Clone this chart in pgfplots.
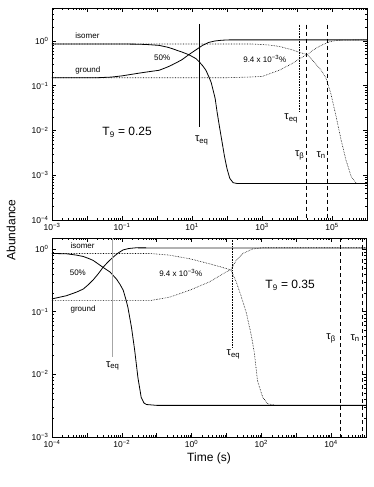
\documentclass[border=0pt]{standalone}
\usepackage{pgfplots}
\pgfplotsset{compat=1.18}
\usepackage{fontspec}
\setmainfont{Liberation Sans}
\newcommand{\ep}[1]{10\textsuperscript{#1}}

\tikzset{
  cur/.style={black, line width=0.8pt},
  dot/.style={black, densely dotted, line width=0.6pt},
  dsh/.style={black, dash pattern=on 4pt off 3pt, line width=0.6pt},
  lab/.style={font=\fontsize{8}{9}\selectfont},
  tau/.style={font=\fontsize{11}{12}\selectfont},
}

\begin{document}
\begin{tikzpicture}[x=1pt,y=1pt]
\path[use as bounding box] (0,0) rectangle (374,487);

% ---- top panel, T9 = 0.25
\begin{axis}[at={(52pt,267pt)}, anchor=south west,
  scale only axis, width=315pt, height=212pt,
  xmode=log, ymode=log,
  axis line style={line width=0.6pt},
  tick style={black, line width=0.4pt},
  major tick length=4pt, minor tick length=2pt,
  tick label style={font=\fontsize{8.5}{9}\selectfont},
  xmin=1e-3, xmax=1e6, ymin=1e-4, ymax=5.4,
  xtick={1e-3,1e-2,1e-1,1,1e1,1e2,1e3,1e4,1e5,1e6},
  xticklabels={\ep{−3},,\ep{−1},,\ep{1},,\ep{3},,\ep{5},},
  ytick={1e-4,1e-3,1e-2,1e-1,1},
  yticklabels={\ep{−4},\ep{−3},\ep{−2},\ep{−1},\ep{0}},
  minor xtick={2e-3,3e-3,4e-3,5e-3,6e-3,7e-3,8e-3,9e-3,
    2e-2,3e-2,4e-2,5e-2,6e-2,7e-2,8e-2,9e-2,
    0.2,0.3,0.4,0.5,0.6,0.7,0.8,0.9, 2,3,4,5,6,7,8,9,
    20,30,40,50,60,70,80,90, 200,300,400,500,600,700,800,900,
    2e3,3e3,4e3,5e3,6e3,7e3,8e3,9e3, 2e4,3e4,4e4,5e4,6e4,7e4,8e4,9e4,
    2e5,3e5,4e5,5e5,6e5,7e5,8e5,9e5},
  minor ytick={2e-4,3e-4,4e-4,5e-4,6e-4,7e-4,8e-4,9e-4,
    2e-3,3e-3,4e-3,5e-3,6e-3,7e-3,8e-3,9e-3,
    2e-2,3e-2,4e-2,5e-2,6e-2,7e-2,8e-2,9e-2,
    0.2,0.3,0.4,0.5,0.6,0.7,0.8,0.9, 2,3,4,5},
]
% 50% case
\addplot[cur, mark=none] coordinates {
  (1e-3,0.85) (0.03,0.85) (0.1,0.848) (0.31,0.84) (0.6,0.82) (1.15,0.79)
  (2.0,0.72) (2.7,0.67) (4,0.60) (5.2,0.56) (8.1,0.49) (13,0.40) (16,0.34)
  (20,0.28) (25,0.22) (30,0.16) (35,0.12) (40,0.08) (46,0.051) (52,0.026)
  (60,0.013) (72,0.0056) (85,0.0026) (100,0.0014) (120,0.00085) (150,0.00068)
  (200,0.00065) (1e6,0.00065)};
\addplot[cur, mark=none] coordinates {
  (1e-3,0.15) (0.02,0.15) (0.05,0.155) (0.1,0.165) (0.31,0.19) (0.6,0.205)
  (1.15,0.22) (2.0,0.26) (2.7,0.29) (4,0.34) (5.2,0.38) (8.1,0.49) (13,0.63)
  (20,0.79) (30,0.92) (45,0.99) (70,1.03) (120,1.05) (1e6,1.05)};
% 9.4e-3 % case
\addplot[dot, mark=none] coordinates {
  (1e-3,0.85) (500,0.85) (1.5e3,0.81) (3.1e3,0.75) (7.2e3,0.63) (1.4e4,0.53)
  (1.95e4,0.49) (2.7e4,0.38) (4.9e4,0.22) (6.8e4,0.145) (9.3e4,0.066)
  (1.3e5,0.021) (1.8e5,0.0064) (2.5e5,0.0022) (3.5e5,0.00095) (4.9e5,0.00066)
  (1e6,0.00065)};
\addplot[dot, mark=none] coordinates {
  (1e-3,0.15) (100,0.15) (400,0.155) (1e3,0.16) (3.1e3,0.22) (7.2e3,0.31)
  (1.4e4,0.43) (1.95e4,0.49) (2.7e4,0.6) (4.3e4,0.75) (6.8e4,0.89)
  (9.3e4,0.97) (1.6e5,1.03) (1e6,1.05)};
% time scales
\addplot[black, line width=1pt, mark=none] coordinates {(16,2.4) (16,0.012)};
\addplot[dot, mark=none] coordinates {(1.2e4,2.3) (1.2e4,0.025)};
\addplot[dsh, mark=none] coordinates {(1.8e4,2.3) (1.8e4,1e-4)};
\addplot[dsh, mark=none] coordinates {(7.4e4,2.3) (7.4e4,1e-4)};

\node[lab, anchor=west] at (axis cs:3.7e-3,1.3) {isomer};
\node[lab, anchor=west] at (axis cs:3.7e-3,0.22) {ground};
\node[lab] at (axis cs:1.4,0.42) {50\%};
\node[lab] at (axis cs:1.2e3,0.40) {9.4 x \ep{−3}\%};
\node[font=\fontsize{12}{13}\selectfont] at (axis cs:0.14,0.009) {T\textsubscript{9} = 0.25};
\node[tau] at (axis cs:19,0.006) {τ\textsubscript{eq}};
\node[tau] at (axis cs:6.8e3,0.0186) {τ\textsubscript{eq}};
\node[tau] at (axis cs:1.2e4,0.0028) {τ\textsubscript{β}};
\node[tau] at (axis cs:4.9e4,0.0028) {τ\textsubscript{n}};
\end{axis}

% ---- bottom panel, T9 = 0.35
\begin{axis}[at={(52pt,50pt)}, anchor=south west,
  scale only axis, width=314pt, height=199pt,
  xmode=log, ymode=log,
  axis line style={line width=0.6pt},
  tick style={black, line width=0.4pt},
  major tick length=4pt, minor tick length=2pt,
  tick label style={font=\fontsize{8.5}{9}\selectfont},
  xmin=1e-4, xmax=1e5, ymin=1e-3, ymax=1.5,
  xtick={1e-4,1e-3,1e-2,1e-1,1,1e1,1e2,1e3,1e4,1e5},
  xticklabels={\ep{−4},,\ep{−2},,\ep{0},,\ep{2},,\ep{4},},
  ytick={1e-3,1e-2,1e-1,1},
  yticklabels={\ep{−3},\ep{−2},\ep{−1},\ep{0}},
  minor xtick={2e-4,3e-4,4e-4,5e-4,6e-4,7e-4,8e-4,9e-4,
    2e-3,3e-3,4e-3,5e-3,6e-3,7e-3,8e-3,9e-3,
    2e-2,3e-2,4e-2,5e-2,6e-2,7e-2,8e-2,9e-2,
    0.2,0.3,0.4,0.5,0.6,0.7,0.8,0.9, 2,3,4,5,6,7,8,9,
    20,30,40,50,60,70,80,90, 200,300,400,500,600,700,800,900,
    2e3,3e3,4e3,5e3,6e3,7e3,8e3,9e3, 2e4,3e4,4e4,5e4,6e4,7e4,8e4,9e4},
  minor ytick={2e-3,3e-3,4e-3,5e-3,6e-3,7e-3,8e-3,9e-3,
    2e-2,3e-2,4e-2,5e-2,6e-2,7e-2,8e-2,9e-2,
    0.2,0.3,0.4,0.5,0.6,0.7,0.8,0.9},
  xlabel={Time (s)},
  xlabel style={font=\fontsize{12}{13}\selectfont, yshift=2pt},
]
\addplot[gray!60, line width=1.6pt, mark=none] coordinates {(0.03,1.05) (1e5,1.05)};
\addplot[cur, mark=none] coordinates {
  (1e-4,0.85) (2.6e-4,0.84) (5e-4,0.80) (7.9e-4,0.76) (1.1e-3,0.71)
  (1.5e-3,0.66) (2.1e-3,0.58) (2.9e-3,0.51) (4.6e-3,0.43) (7.1e-3,0.33)
  (0.009,0.27) (0.011,0.22) (0.013,0.16) (0.015,0.117) (0.019,0.056)
  (0.0235,0.024) (0.029,0.0089) (0.036,0.0043) (0.043,0.0035) (0.051,0.0033)
  (0.1,0.0032) (1e5,0.0032)};
\addplot[cur, mark=none] coordinates {
  (1e-4,0.16) (2.6e-4,0.18) (5e-4,0.205) (7.9e-4,0.23) (1.1e-3,0.27)
  (1.5e-3,0.32) (2.1e-3,0.40) (2.9e-3,0.51) (4e-3,0.62) (5.6e-3,0.74)
  (8e-3,0.87) (0.011,0.97) (0.016,1.02) (0.027,1.05) (0.05,1.05)};
\addplot[dot, mark=none] coordinates {
  (1e-4,0.85) (0.063,0.85) (0.23,0.80) (0.88,0.70) (3.3,0.58) (9.8,0.49)
  (13.5,0.46) (19,0.30) (26,0.18) (37,0.097) (52,0.041) (63,0.022)
  (78,0.0078) (110,0.0043) (150,0.0034) (250,0.0032) (1e5,0.0032)};
\addplot[dot, mark=none] coordinates {
  (1e-4,0.15) (0.063,0.15) (0.23,0.17) (0.88,0.22) (3.3,0.30) (9.8,0.43)
  (13.5,0.47) (19,0.66) (29.6,0.85) (56,1.0) (110,1.05) (1e5,1.05)};
\addplot[gray!70, line width=1pt, mark=none] coordinates {(5.5e-3,1.5) (5.5e-3,0.019)};
\addplot[dot, mark=none] coordinates {(15,1.5) (15,0.026)};
\addplot[dsh, mark=none] coordinates {(1.8e4,1.5) (1.8e4,1e-3)};
\addplot[dsh, mark=none] coordinates {(7.6e4,1.5) (7.6e4,1e-3)};

\node[lab, anchor=west] at (axis cs:2.7e-4,1.14) {isomer};
\node[lab] at (axis cs:5.5e-4,0.42) {50\%};
\node[lab, anchor=west] at (axis cs:2.7e-4,0.11) {ground};
\node[lab] at (axis cs:0.49,0.42) {9.4 x \ep{−3}\%};
\node[font=\fontsize{12}{13}\selectfont] at (axis cs:670,0.26) {T\textsubscript{9} = 0.35};
\node[tau] at (axis cs:5.5e-3,0.0136) {τ\textsubscript{eq}};
\node[tau] at (axis cs:15.8,0.021) {τ\textsubscript{eq}};
\node[tau] at (axis cs:1e4,0.038) {τ\textsubscript{β}};
\node[tau] at (axis cs:4.9e4,0.038) {τ\textsubscript{n}};
\end{axis}

\node[rotate=90, font=\fontsize{12}{13}\selectfont] at (11,257) {Abundance};
\end{tikzpicture}
\end{document}
